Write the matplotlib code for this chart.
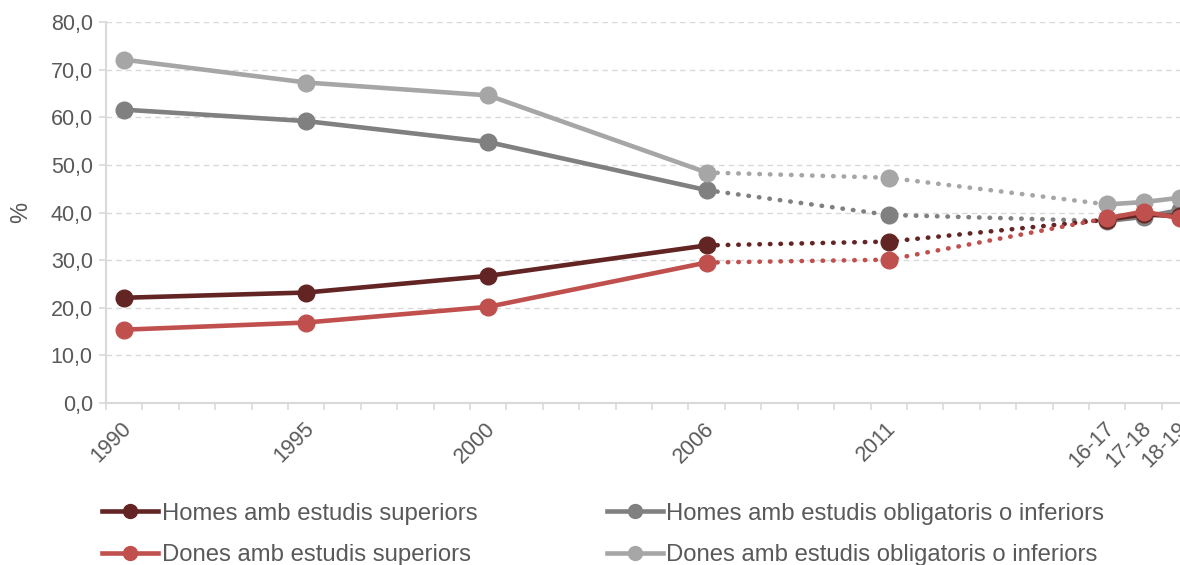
import numpy as np
import matplotlib.pyplot as plt
from matplotlib.ticker import FuncFormatter, FixedLocator
from matplotlib.transforms import ScaledTranslation

plt.rcParams["font.family"] = ["Liberation Sans", "DejaVu Sans"]

years = [1990, 1995, 2000, 2006, 2011, 2017, 2018, 2019]
year_labels = ["1990", "1995", "2000", "2006", "2011", "16-17", "17-18", "18-19"]

homes_sup = [22.1, 23.2, 26.7, 33.1, 33.9, 38.5, 39.6, 39.2]
dones_sup = [15.4, 16.9, 20.2, 29.5, 30.1, 38.8, 40.2, 38.8]
homes_obl = [61.6, 59.2, 54.8, 44.7, 39.5, 38.2, 39.1, 40.5]
dones_obl = [72.1, 67.3, 64.6, 48.4, 47.3, 41.7, 42.2, 43.1]

series = [
    ("Homes amb estudis superiors", homes_sup, "#632523"),
    ("Dones amb estudis superiors", dones_sup, "#C0504D"),
    ("Homes amb estudis obligatoris o inferiors", homes_obl, "#808080"),
    ("Dones amb estudis obligatoris o inferiors", dones_obl, "#A6A6A6"),
]
zorders = [4, 5, 2, 3]

fig = plt.figure(figsize=(11.8, 5.65), dpi=100)
ax = fig.add_axes([0.0898, 0.2867, 0.9102, 0.6743])

text_col = "#595959"
grid_col = "#D9D9D9"
lw = 3.3
ms = 12

handles = []
for (name, vals, col), z in zip(series, zorders):
    x = np.array(years)
    y = np.array(vals)
    # solid up to 2006, dotted 2006 -> 16-17, solid afterwards
    ax.plot(x[:4], y[:4], color=col, lw=lw, solid_capstyle="round", zorder=z)
    ax.plot(x[3:6], y[3:6], color=col, lw=lw, linestyle=(0, (0.1, 2.2)),
            dash_capstyle="round", zorder=z)
    ax.plot(x[5:], y[5:], color=col, lw=lw, solid_capstyle="round", zorder=z)
    ax.plot(x, y, linestyle="none", marker="o", markersize=ms, color=col, zorder=z)
    handles.append(plt.Line2D([], [], color=col, lw=lw, marker="o", markersize=10))

ax.set_xlim(1989.5, 2019.0)
ax.set_ylim(0, 80)
ax.set_yticks(np.arange(0, 81, 10))
ax.yaxis.set_major_formatter(FuncFormatter(lambda v, _: f"{v:.1f}".replace(".", ",")))
ax.grid(axis="y", color=grid_col, lw=1, linestyle=(0, (4, 3)))
ax.set_axisbelow(True)

ax.set_xticks(years)
ax.set_xticklabels(year_labels, rotation=45, ha="right", va="top", rotation_mode="anchor")
ax.xaxis.set_minor_locator(FixedLocator(np.arange(1989.5, 2019.0, 1.0)))
ax.tick_params(axis="x", which="major", length=0, pad=11, labelsize=15.5, labelcolor=text_col)
ax.tick_params(axis="x", which="minor", length=5, width=1.2, color=grid_col)
ax.tick_params(axis="y", length=5, width=1.2, color=grid_col, labelsize=15.5,
               labelcolor=text_col, pad=4.5)
for lab in ax.get_xticklabels():
    lab.set_transform(lab.get_transform() + ScaledTranslation(-3 / 100, 0, fig.dpi_scale_trans))

for s in ["top", "right"]:
    ax.spines[s].set_visible(False)
for s in ["left", "bottom"]:
    ax.spines[s].set_color(grid_col)
    ax.spines[s].set_linewidth(1.5)

ax.set_ylabel("%", fontsize=17, color=text_col)
ax.yaxis.set_label_coords(-0.069, 0.5)

fig.legend(handles, [s[0] for s in series], ncol=2, loc="upper left",
           bbox_to_anchor=(0.0866, 0.11), frameon=False, fontsize=17.2,
           handlelength=2.35, handletextpad=0.15, columnspacing=5.4,
           labelspacing=0.8, borderpad=0, borderaxespad=0, labelcolor=text_col)

fig.savefig("out.png", dpi=100)
